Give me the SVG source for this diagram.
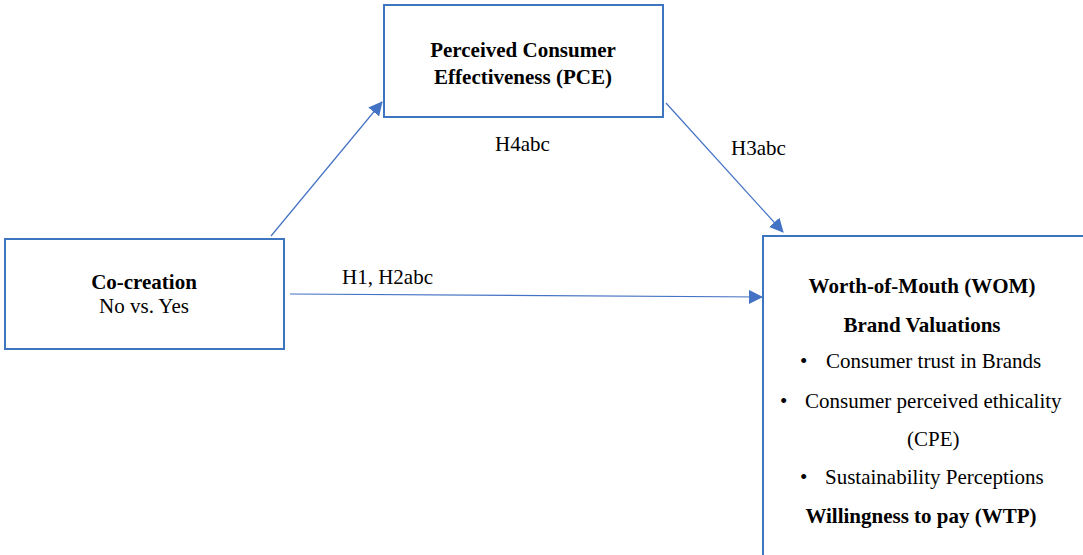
<svg xmlns="http://www.w3.org/2000/svg" width="1083" height="555" viewBox="0 0 1083 555">
<style>
.box{fill:#fff;stroke:#3E75C0;stroke-width:2}
.t{font-family:"Liberation Serif","Times New Roman",serif;font-size:21px;fill:#000}
.b{font-weight:bold}
.c{text-anchor:middle}
.ln{stroke:#4472C4;stroke-width:1.2;fill:none}
</style>
<defs>
<marker id="ah" markerWidth="10" markerHeight="10" refX="9" refY="5" orient="auto" markerUnits="userSpaceOnUse" viewBox="0 0 10 10">
<path d="M0,0 L10,5 L0,10 z" fill="#4472C4"/>
</marker>
<marker id="ah2" markerWidth="14" markerHeight="14" refX="13" refY="7" orient="auto" markerUnits="userSpaceOnUse" viewBox="0 0 14 14">
<path d="M0,0 L14,7 L0,14 z" fill="#4472C4"/>
</marker>
</defs>
<rect width="1083" height="555" fill="#fff"/>
<g id="pce">
<rect class="box" x="384" y="5" width="279" height="112"/>
<text class="t b c" x="523" y="57">Perceived Consumer</text>
<text class="t b c" x="523" y="84">Effectiveness (PCE)</text>
</g>
<g id="cocreation">
<rect class="box" x="5" y="239" width="279" height="110"/>
<text class="t b c" x="144" y="289">Co-creation</text>
<text class="t c" x="144" y="313">No vs. Yes</text>
</g>
<g id="outcomes">
<rect class="box" x="763" y="236" width="330" height="330"/>
<text class="t b c" x="922" y="293">Worth-of-Mouth (WOM)</text>
<text class="t b c" x="922" y="332">Brand Valuations</text>
<text class="t" x="800" y="368">•</text>
<text class="t" x="826" y="368">Consumer trust in Brands</text>
<text class="t" x="780" y="408">•</text>
<text class="t" x="805" y="408">Consumer perceived ethicality</text>
<text class="t" x="907" y="446">(CPE)</text>
<text class="t" x="800" y="484">•</text>
<text class="t" x="825" y="484">Sustainability Perceptions</text>
<text class="t b c" x="921" y="523">Willingness to pay (WTP)</text>
</g>
<g id="connectors">
<line class="ln" x1="271" y1="236" x2="382" y2="102" marker-end="url(#ah2)"/>
<line class="ln" x1="666" y1="103" x2="783" y2="232" marker-end="url(#ah2)"/>
<line class="ln" x1="290" y1="294" x2="762" y2="297" marker-end="url(#ah2)"/>
<text class="t" x="495" y="151">H4abc</text>
<text class="t" x="731" y="155">H3abc</text>
<text class="t" x="342" y="284">H1, H2abc</text>
</g>
</svg>
